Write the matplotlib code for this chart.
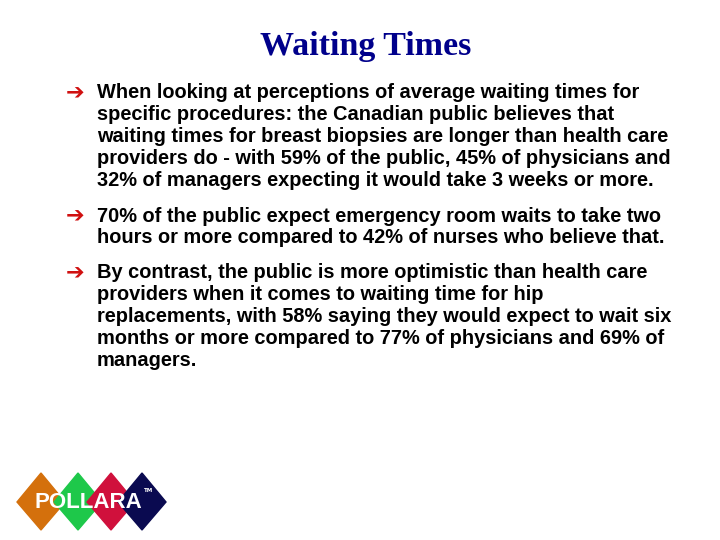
import matplotlib
matplotlib.use("Agg")
import matplotlib.pyplot as plt
from matplotlib.patches import Polygon

title = "Waiting Times"
bullets = [
    ["When looking at perceptions of average waiting times for",
     "specific procedures: the Canadian public believes that",
     "waiting times for breast biopsies are longer than health care",
     "providers do - with 59% of the public, 45% of physicians and",
     "32% of managers expecting it would take 3 weeks or more."],
    ["70% of the public expect emergency room waits to take two",
     "hours or more compared to 42% of nurses who believe that."],
    ["By contrast, the public is more optimistic than health care",
     "providers when it comes to waiting time for hip",
     "replacements, with 58% saying they would expect to wait six",
     "months or more compared to 77% of physicians and 69% of",
     "managers."],
]
bullet_tops = [93, 216, 273]
logo_colors = ["#d4700c", "#1ec84a", "#d0103c", "#0a0a50"]
logo_centers = [41, 78, 111, 142]

fig = plt.figure(figsize=(7.2, 5.4), dpi=100)
ax = fig.add_axes([0, 0, 1, 1])
ax.set_xlim(0, 720); ax.set_ylim(540, 0); ax.axis("off")

ax.text(366, 47, title, ha="center", va="center", fontsize=24.5, fontweight="bold",
        family="Liberation Serif", color="#00008b")
lh = 21.75
for top, lines in zip(bullet_tops, bullets):
    ax.text(66, top, "➔", ha="left", va="center", fontsize=16, color="#d01010",
            family="DejaVu Sans", fontweight="bold")
    for i, ln in enumerate(lines):
        ax.text(97, top + i * lh, ln, ha="left", va="center", fontsize=14.4,
                fontweight="bold", family="Liberation Sans", color="black")

for cx, c in zip(logo_centers, logo_colors):
    ax.add_patch(Polygon([(cx - 24, 502), (cx, 473), (cx + 24, 502), (cx, 530)],
                         closed=True, color=c))
ax.text(88, 503, "POLLARA", ha="center", va="center", fontsize=16, fontweight="bold",
        family="Liberation Sans", color="white")
ax.text(149, 491, "TM", ha="center", va="center", fontsize=4, fontweight="bold", color="white")
fig.savefig("out.png", dpi=100)
